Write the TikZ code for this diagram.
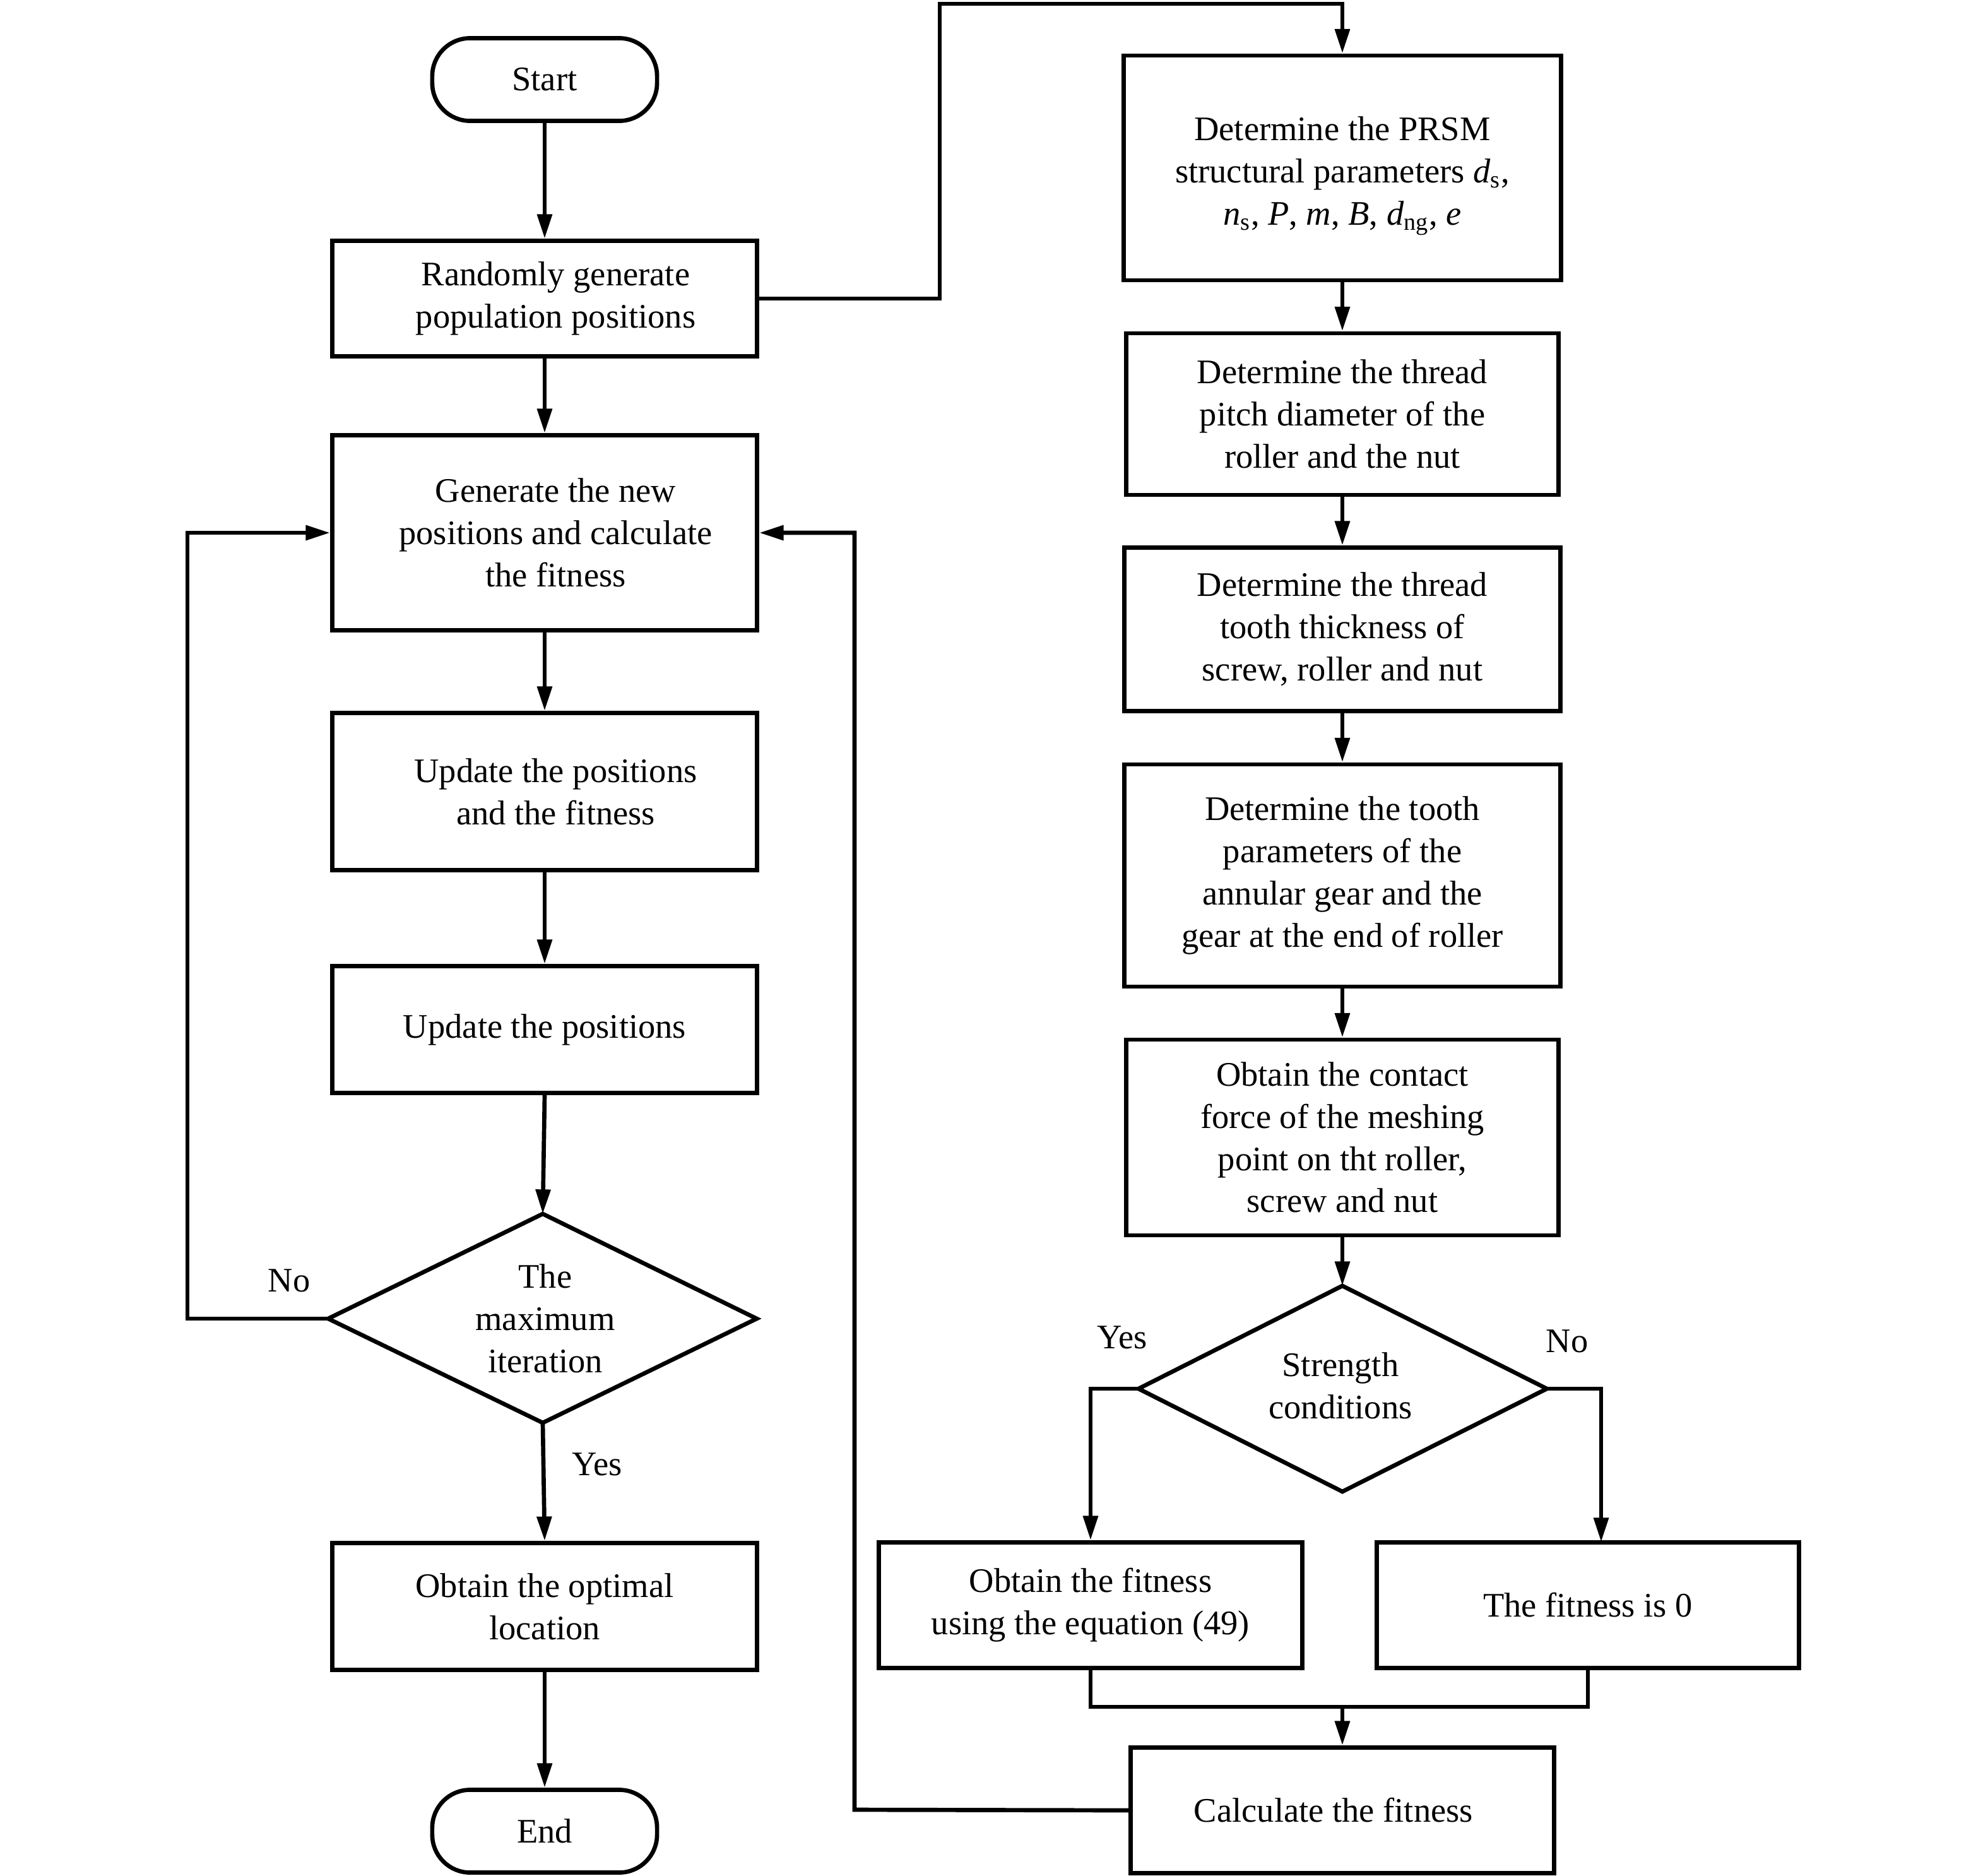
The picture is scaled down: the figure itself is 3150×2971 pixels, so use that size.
\documentclass[tikz,border=0pt]{standalone}
\usepackage{fontspec}
\setmainfont{Liberation Serif}
\usetikzlibrary{arrows.meta,calc}
\newcommand{\itv}[2]{\textit{#1}\textsubscript{#2}}
\begin{document}
\begin{tikzpicture}[x=0.01cm,y=-0.01cm,
  font=\fontsize{15.5}{19}\selectfont,
  box/.style={draw,line width=1.9pt,align=center,inner sep=0pt},
  term/.style={draw,line width=1.9pt,rounded corners=0.6cm,align=center,inner sep=0pt,minimum width=3.56cm,minimum height=1.31cm},
  conn/.style={line width=1.9pt,-{Triangle[length=11pt,width=6.5pt]}},
  line/.style={line width=1.9pt},
  lbl/.style={inner sep=0pt}]
\useasboundingbox (0,0) rectangle (3150,2971);
% left column
\node[term] (start) at (863,126) {Start};
\node[box,minimum width=6.73cm,minimum height=1.83cm] (rand) at (863,473) {\hspace*{10pt}Randomly generate\\\hspace*{10pt}population positions};
\node[box,minimum width=6.73cm,minimum height=3.09cm] (gen) at (863,844) {\hspace*{10pt}Generate the new\\\hspace*{10pt}positions and calculate\\\hspace*{10pt}the fitness};
\node[box,minimum width=6.73cm,minimum height=2.49cm] (upd1) at (863,1254) {\hspace*{10pt}Update the positions\\\hspace*{10pt}and the fitness};
\node[box,minimum width=6.73cm,minimum height=2.01cm] (upd2) at (863,1631) {Update the positions};
\coordinate (d1t) at (860,1923);
\coordinate (d1b) at (860,2254);
\coordinate (d1l) at (520,2089);
\coordinate (d1r) at (1199,2089);
\draw[line width=1.9pt,line join=miter] (d1t) -- (d1r) -- (d1b) -- (d1l) -- cycle;
\node[align=center,inner sep=0pt] (d1) at (864,2089) {The\\maximum\\iteration};
\node[box,minimum width=6.73cm,minimum height=2.01cm] (opt) at (863,2545) {Obtain the optimal\\location};
\node[term] (end) at (863,2901) {End};

\draw[conn] (start) -- (rand);
\draw[conn] (rand) -- (gen);
\draw[conn] (gen) -- (upd1);
\draw[conn] (upd1) -- (upd2);
\draw[conn] (upd2.south) -- (d1t);
\draw[conn] (d1b) -- (opt.north);
\draw[conn] (opt) -- (end);
\coordinate (noL) at (297,2089);
\draw[conn] (d1l) -- (noL) |- (gen.west);
\node[lbl] (nolbl) at (458,2029) {No};
\node[lbl] (yeslbl) at (946,2320) {Yes};

% right column
\node[box,minimum width=6.93cm,minimum height=3.56cm] (prsm) at (2127,266) {\rule{0pt}{18pt}Determine the PRSM\\structural parameters \itv{d}{s},\\\itv{n}{s}, \textit{P}, \textit{m}, \textit{B}, \itv{d}{ng}, \textit{e}};
\node[box,minimum width=6.85cm,minimum height=2.56cm] (pitch) at (2127,656) {Determine the thread\\pitch diameter of the\\roller and the nut};
\node[box,minimum width=6.91cm,minimum height=2.59cm] (thick) at (2127,997) {Determine the thread\\tooth thickness of\\screw, roller and nut};
\node[box,minimum width=6.91cm,minimum height=3.52cm] (tpar) at (2127,1387) {Determine the tooth\\parameters of the\\annular gear and the\\gear at the end of roller};
\node[box,minimum width=6.85cm,minimum height=3.10cm] (cont) at (2127,1802) {Obtain the contact\\force of the meshing\\point on tht roller,\\screw and nut};
\coordinate (d2t) at (2127,2037);
\coordinate (d2b) at (2127,2363);
\coordinate (d2l) at (1804,2200);
\coordinate (d2r) at (2451,2200);
\draw[line width=1.9pt,line join=miter] (d2t) -- (d2r) -- (d2b) -- (d2l) -- cycle;
\node[align=center,inner sep=0pt] (d2) at (2124,2195) {Strength\\conditions};
\node[box,minimum width=6.71cm,minimum height=1.99cm] (fitq) at (1728,2543) {Obtain the fitness\\using the equation (49)};
\node[box,minimum width=6.69cm,minimum height=1.99cm] (fit0) at (2516,2543) {The fitness is 0};
\node[box,minimum width=6.71cm,minimum height=1.99cm] (calc) at (2127,2868) {\hspace*{-8pt}Calculate the fitness};

\coordinate (top1) at (1489,473);
\coordinate (top2) at (1489,6);
\draw[conn] (rand.east) -- (top1) -- (top2) -| (prsm.north);
\draw[conn] (prsm) -- (pitch);
\draw[conn] (pitch) -- (thick);
\draw[conn] (thick) -- (tpar);
\draw[conn] (tpar) -- (cont);
\draw[conn] (cont.south) -- (d2t);
\draw[conn] (d2l) -| (fitq.north);
\coordinate (noR) at (2537,2200);
\coordinate (noRb) at (2537,2443);
\draw[conn] (d2r) -- (noR) -- (noRb);
\node[lbl] (yes2) at (1778,2119) {Yes};
\node[lbl] (no2) at (2483,2125) {No};
\coordinate (mergeL) at (1728,2704);
\coordinate (merge) at (2127,2704);
\draw[line] (fitq.south) -- (mergeL) -| (fit0.south);
\draw[conn] (merge) -- (calc.north);
\coordinate (fbk) at (1354,2867);
\draw[conn] (calc.west) -- (fbk) |- (gen.east);
\end{tikzpicture}
\end{document}
